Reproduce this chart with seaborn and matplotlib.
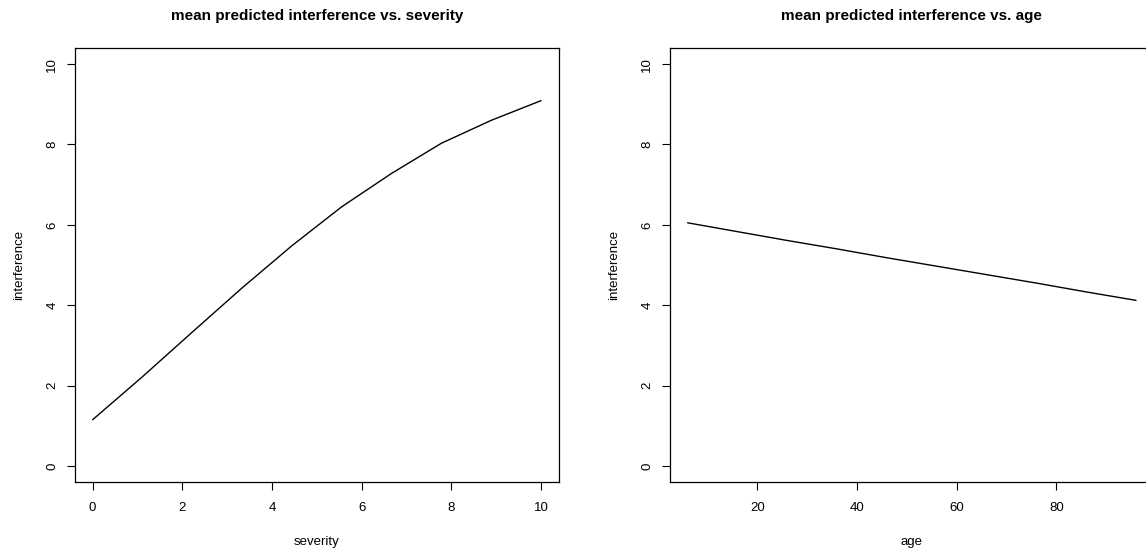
import matplotlib
matplotlib.use("Agg")
import matplotlib.pyplot as plt
import seaborn as sns
import pandas as pd

# values
severity = [0.0, 1.111, 2.222, 3.333, 4.444, 5.556, 6.667, 7.778, 8.889, 10.0]
interference_sev = [1.15, 2.22, 3.33, 4.43, 5.48, 6.45, 7.28, 8.03, 8.60, 9.09]

age = [6, 16, 26, 36, 46, 56, 66, 76, 86, 96]
interference_age = [6.05, 5.83, 5.61, 5.40, 5.18, 4.97, 4.76, 4.55, 4.33, 4.12]

sev_ticks = [0, 2, 4, 6, 8, 10]
age_ticks = [20, 40, 60, 80]
y_ticks = [0, 2, 4, 6, 8, 10]

sns.set_style("ticks")
plt.rcParams['font.family'] = ['Liberation Sans', 'DejaVu Sans']
plt.rcParams['text.color'] = 'black'
plt.rcParams['axes.labelcolor'] = 'black'
plt.rcParams['xtick.color'] = 'black'
plt.rcParams['ytick.color'] = 'black'

fig = plt.figure(figsize=(11.46, 5.52), dpi=100)
W, H = 1146, 552

# axes boxes in pixels: left, top, right, bottom
boxes = [(74.7, 48, 559, 482), (669.7, 48, 1154, 482)]

panels = [
    (pd.DataFrame({'severity': severity, 'interference': interference_sev}),
     'severity', sev_ticks, 'mean predicted interference vs. severity'),
    (pd.DataFrame({'age': age, 'interference': interference_age}),
     'age', age_ticks, 'mean predicted interference vs. age'),
]

for (l, t, r, b), (df, xcol, xticks, title) in zip(boxes, panels):
    ax = fig.add_axes([l / W, 1 - b / H, (r - l) / W, (b - t) / H])
    sns.lineplot(data=df, x=xcol, y='interference', ax=ax,
                 color='black', linewidth=1.0)
    xmin, xmax = min(df[xcol]), max(df[xcol])
    span = xmax - xmin
    ax.set_xlim(xmin - 0.04 * span, xmax + 0.04 * span)
    ax.set_ylim(-0.4, 10.4)
    ax.set_xticks(xticks)
    ax.set_yticks(y_ticks)
    ax.set_xticklabels([str(v) for v in xticks], fontsize=9.5)
    ax.set_yticklabels([str(v) for v in y_ticks], fontsize=9.5,
                       rotation=90, va='center')
    ax.tick_params(axis='both', length=5.8, width=0.8, color='black',
                   direction='out')
    ax.tick_params(axis='x', pad=8.5)
    ax.tick_params(axis='y', pad=6)
    for sp in ax.spines.values():
        sp.set_visible(True)
        sp.set_color('black')
        sp.set_linewidth(0.9)
    ax.set_xlabel(xcol, fontsize=9.5, labelpad=16)
    ax.set_ylabel('interference', fontsize=9.5, labelpad=15.5)
    ax.set_title(title, fontsize=11, fontweight='bold', pad=20)

fig.savefig('out.png', dpi=100)
